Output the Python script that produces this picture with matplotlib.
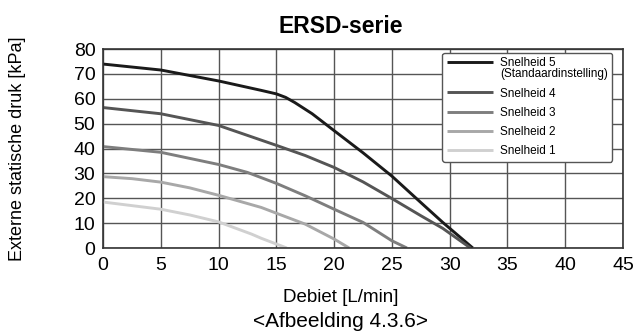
import numpy as np
import matplotlib
matplotlib.use('Agg')
import matplotlib.pyplot as plt

plt.rcParams['font.family'] = ['Liberation Sans', 'DejaVu Sans']

# debiet [L/min] vs externe statische druk [kPa]
s5_x = [0, 5, 10, 13.7, 15, 15.8, 16.6, 18.1, 20, 22.5, 25, 27.5, 29.4, 32]
s5_y = [74, 71.6, 67.2, 63.4, 62, 60.6, 58.5, 54, 47.2, 38.3, 28.9, 18.3, 10.3, 0]
s4_x = [0, 5, 10, 15, 17.5, 20, 22.5, 25, 27.5, 29.4, 31.8]
s4_y = [56.5, 54, 49.3, 41.3, 37.2, 32.4, 26.6, 19.9, 13, 7.9, 0]
s3_x = [0, 5, 10, 12.5, 15, 17.5, 20, 22.5, 25, 26.3]
s3_y = [40.8, 38.5, 33.6, 30.4, 26.0, 21, 15.6, 10.3, 2.9, 0]
s2_x = [0, 2.5, 5, 7.5, 10, 13.7, 15, 17.5, 20, 21.3]
s2_y = [28.7, 27.9, 26.5, 24.2, 21.2, 16.3, 14, 9.6, 3.6, 0]
s1_x = [0, 5, 7.5, 10, 12.85, 13.7, 15, 15.9]
s1_y = [18.5, 15.6, 13.3, 10.5, 5.6, 3.9, 1.6, 0]

labels = ['Snelheid 5\n(Standaardinstelling)', 'Snelheid 4', 'Snelheid 3',
          'Snelheid 2', 'Snelheid 1']
colors = ['#1a1a1a', '#555555', '#7e7e7e', '#a8a8a8', '#d0d0d0']

fig = plt.figure(figsize=(6.36, 3.32), dpi=100)
ax = fig.add_axes([0.162, 0.253, 0.8176, 0.599])

series = [(s5_x, s5_y), (s4_x, s4_y), (s3_x, s3_y), (s2_x, s2_y), (s1_x, s1_y)]
for (x, y), lab, c in zip(series, labels, colors):
    ax.plot(x, y, color=c, lw=2.1, label=lab, solid_capstyle='butt',
            solid_joinstyle='round')

ax.set_xlim(0, 45)
ax.set_ylim(0, 80)
ax.set_xticks(np.arange(0, 46, 5))
ax.set_yticks(np.arange(0, 81, 10))
ax.grid(True, color='#555555', lw=1.0)
ax.set_axisbelow(True)
ax.tick_params(length=0, labelsize=14)
ax.tick_params(axis='x', pad=6.5)
ax.tick_params(axis='y', pad=5.5)
for sp in ax.spines.values():
    sp.set_color('#333333')
    sp.set_linewidth(1.2)

fig.text(0.535, 0.9006, 'ERSD-serie', fontsize=16.5, fontweight='bold',
         ha='center', va='baseline')
fig.text(0.535, 0.1054, 'Debiet [L/min]', fontsize=13.5, ha='center', va='center')
fig.text(0.535, 0.033, '<Afbeelding 4.3.6>', fontsize=15, ha='center', va='center')
fig.text(0.027, 0.553, 'Externe statische druk [kPa]', rotation=90,
         fontsize=13, ha='center', va='center')

leg = ax.legend(loc='upper right', bbox_to_anchor=(0.979, 0.983),
                fontsize=8.5, handlelength=3.9, handletextpad=0.63,
                labelspacing=0.62, borderpad=0.35, borderaxespad=0,
                fancybox=True, framealpha=1, edgecolor='#555555')
leg.get_frame().set_linewidth(1.0)
for t in leg.get_texts():
    t.set_linespacing(0.95)
# first handle sits level with the first line of its two-line label
h0 = leg.legend_handles[0]
h0.set_ydata(np.asarray(h0.get_ydata()) + 5)

fig.savefig('out.png', dpi=100)
